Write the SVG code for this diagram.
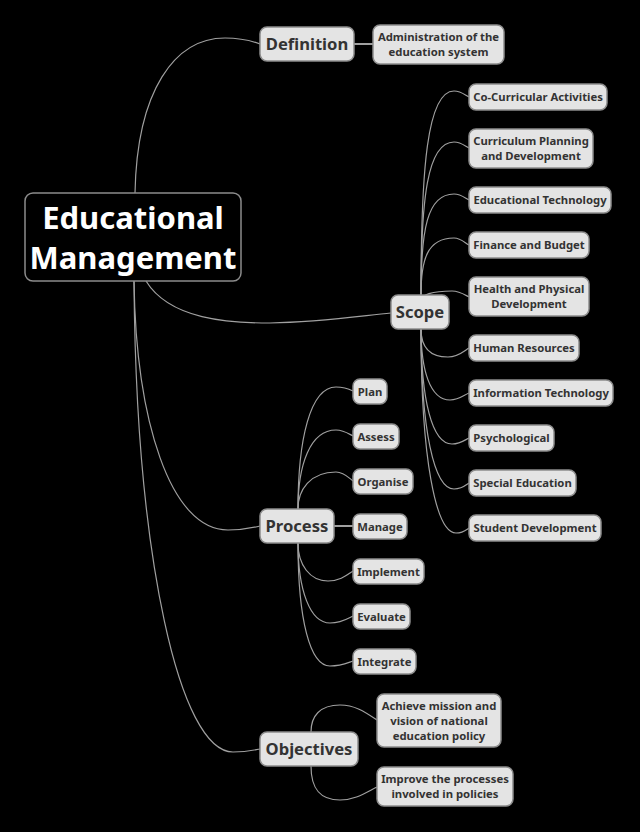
<svg xmlns="http://www.w3.org/2000/svg" width="640" height="832" viewBox="0 0 640 832">
<style>
.bg{fill:#000}
.n rect{fill:#e4e4e4;stroke:#8c8c8c;stroke-width:1.5}
.n text{font-family:"Noto Sans","Open Sans",sans-serif;font-weight:bold;fill:#333;text-anchor:middle}
.s text{font-size:11.3px}
.b text{font-size:16.6px}
#conn path{fill:none;stroke:#a0a0a0;stroke-width:1.2}
#root rect{fill:#000;stroke:#8c8c8c;stroke-width:1.5}
#root text{font-family:"Noto Sans","Open Sans",sans-serif;font-weight:bold;fill:#fff;font-size:31px;text-anchor:middle}
</style>
<rect class="bg" x="0" y="0" width="640" height="832"/>
<g id="conn">
<path d="M135,193 C137,90 175,38 225,38 C242,38 252,41 260,44"/>
<path d="M354,44 L373,44" style="stroke-width:2"/>
<path d="M146,281 C170,320 230,323 270,323 C320,322 360,316 391,313"/>
<path d="M134,281 C136,420 170,530 228,530 C244,530 252,528 260,526"/>
<path d="M134,281 C136,560 180,752 233,752 C247,752 254,750 260,749"/>
<path d="M421,295 C421,170 427,91 454,91 C461,91 465,95 469,97"/>
<path d="M421,295 C421,200 427,142 454,142 C461,142 465,146 469,148"/>
<path d="M421,295 C421,230 427,194 454,194 C461,194 465,198 469,200"/>
<path d="M421,295 C421,260 427,238 454,238 C461,238 465,243 469,245"/>
<path d="M421,300 C421,295 432,291 452,291 C460,291 465,295 469,297"/>
<path d="M421,329 C421,345 428,357 448,357 C458,357 464,351 469,348"/>
<path d="M421,329 C421,370 430,400 450,400 C459,400 464,395 469,393"/>
<path d="M421,329 C421,400 432,444 452,444 C460,444 465,440 469,438"/>
<path d="M421,329 C421,430 434,489 454,489 C462,489 466,485 469,483"/>
<path d="M421,329 C421,460 436,533 456,533 C463,533 466,530 469,528"/>
<path d="M298,509 C298,440 310,387 336,387 C344,387 349,389 353,391"/>
<path d="M298,509 C298,465 310,430 336,430 C344,430 349,434 353,436"/>
<path d="M298,509 C298,490 310,472 336,472 C344,472 349,478 353,481"/>
<path d="M334,526 L353,526" style="stroke-width:2"/>
<path d="M298,543 C298,565 310,581 328,581 C340,581 347,575 353,571"/>
<path d="M298,543 C298,590 310,623 330,623 C341,623 347,619 353,616"/>
<path d="M298,543 C298,620 310,666 330,666 C341,666 347,663 353,661"/>
<path d="M311,732 C311,716 320,705 340,705 C355,705 365,712 377,720"/>
<path d="M311,766 C311,789 320,800 340,800 C355,800 365,793 377,787"/>
</g>
<g id="root">
<rect x="25" y="193" width="216" height="88" rx="8"/>
<text x="133" y="229">Educational</text>
<text x="133" y="269">Management</text>
</g>
<g id="definition" class="n b"><rect x="260" y="27" width="94" height="34" rx="7"/><text x="307" y="50">Definition</text></g>
<g id="admin" class="n s"><rect x="373" y="25" width="131" height="39" rx="7"/><text x="438.5" y="41">Administration of the</text><text x="438.5" y="56">education system</text></g>
<g id="scope" class="n b"><rect x="391" y="295" width="58" height="34" rx="7"/><text x="420" y="318">Scope</text></g>
<g id="cocurricular" class="n s"><rect x="469" y="84" width="138" height="26" rx="7"/><text x="538" y="101">Co-Curricular Activities</text></g>
<g id="curriculum" class="n s"><rect x="469" y="129" width="124" height="39" rx="7"/><text x="531" y="145">Curriculum Planning</text><text x="531" y="160">and Development</text></g>
<g id="edtech" class="n s"><rect x="469" y="187" width="142" height="26" rx="7"/><text x="540" y="204">Educational Technology</text></g>
<g id="finance" class="n s"><rect x="469" y="232" width="120" height="26" rx="7"/><text x="529" y="249">Finance and Budget</text></g>
<g id="health" class="n s"><rect x="469" y="277" width="120" height="39" rx="7"/><text x="529" y="293">Health and Physical</text><text x="529" y="308">Development</text></g>
<g id="hr" class="n s"><rect x="469" y="335" width="110" height="26" rx="7"/><text x="524" y="352">Human Resources</text></g>
<g id="it" class="n s"><rect x="469" y="380" width="144" height="26" rx="7"/><text x="541" y="397">Information Technology</text></g>
<g id="psych" class="n s"><rect x="469" y="425" width="85" height="26" rx="7"/><text x="511.5" y="442">Psychological</text></g>
<g id="special" class="n s"><rect x="469" y="470" width="107" height="26" rx="7"/><text x="522.5" y="487">Special Education</text></g>
<g id="student" class="n s"><rect x="469" y="515" width="132" height="26" rx="7"/><text x="535" y="532">Student Development</text></g>
<g id="process" class="n b"><rect x="260" y="509" width="74" height="34" rx="7"/><text x="297" y="532">Process</text></g>
<g id="plan" class="n s"><rect x="353" y="379" width="34" height="25" rx="7"/><text x="370" y="395.5">Plan</text></g>
<g id="assess" class="n s"><rect x="353" y="424" width="46" height="25" rx="7"/><text x="376" y="440.5">Assess</text></g>
<g id="organise" class="n s"><rect x="353" y="469" width="60" height="25" rx="7"/><text x="383" y="485.5">Organise</text></g>
<g id="manage" class="n s"><rect x="353" y="514" width="54" height="25" rx="7"/><text x="380" y="530.5">Manage</text></g>
<g id="implement" class="n s"><rect x="353" y="559" width="71" height="25" rx="7"/><text x="388.5" y="575.5">Implement</text></g>
<g id="evaluate" class="n s"><rect x="353" y="604" width="57" height="25" rx="7"/><text x="381.5" y="620.5">Evaluate</text></g>
<g id="integrate" class="n s"><rect x="353" y="649" width="63" height="25" rx="7"/><text x="384.5" y="665.5">Integrate</text></g>
<g id="objectives" class="n b"><rect x="260" y="732" width="98" height="34" rx="7"/><text x="309" y="755">Objectives</text></g>
<g id="achieve" class="n s"><rect x="377" y="694" width="124" height="53" rx="7"/><text x="439" y="710">Achieve mission and</text><text x="439" y="725">vision of national</text><text x="439" y="740">education policy</text></g>
<g id="improve" class="n s"><rect x="377" y="767" width="136" height="39" rx="7"/><text x="445" y="783">Improve the processes</text><text x="445" y="798">involved in policies</text></g>
</svg>
